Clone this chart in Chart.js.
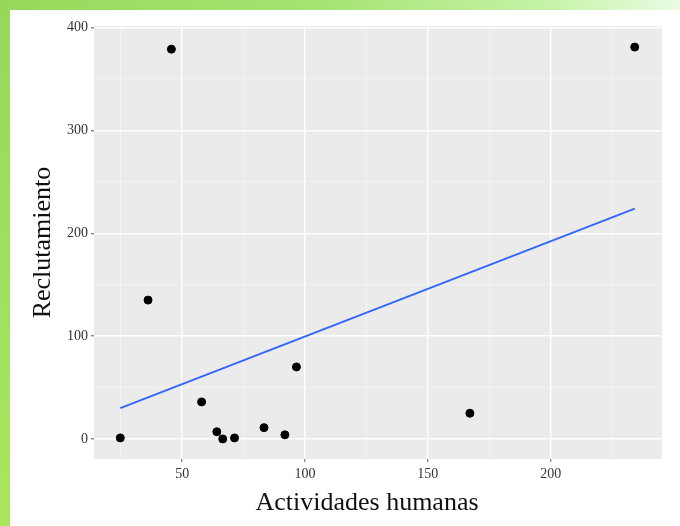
<!DOCTYPE html>
<html>
<head>
<meta charset="utf-8">
<script src="https://cdn.jsdelivr.net/npm/chart.js@4/dist/chart.umd.min.js"></script>
<style>
  html, body { margin: 0; padding: 0; background: #fff; }
  #wrap { position: relative; width: 680px; height: 526px; overflow: hidden; background: #fff; }
  #topBand { position: absolute; left: 0; top: 0; width: 680px; height: 10px;
    background: linear-gradient(to right, #97d95c 0%, #a3e36f 45%, #c4f3a6 80%, #eafbe2 100%); }
  #leftBand { position: absolute; left: 0; top: 0; width: 10px; height: 526px;
    background: linear-gradient(to bottom, #96d95a 0%, #9fdf5f 50%, #a9e65c 100%); }
  #chart { position: absolute; left: 0; top: 0; }
</style>
</head>
<body>
<div id="wrap">
  <div id="topBand"></div>
  <div id="leftBand"></div>
  <canvas id="chart" width="680" height="526"></canvas>
</div>
<script>
// Data
const actividades = [24.8, 36.1, 45.6, 57.9, 64.1, 66.5, 71.3, 83.3, 91.8, 96.5, 167.1, 234.2];
const reclutamiento = [1, 135, 379, 36, 7, 0, 1, 11, 4, 70, 25, 381];

// fitted line (end points)
const ajusteX = [24.8, 234.2];
const ajusteY = [30, 224];

// axis ticks
const xMajor = [50, 100, 150, 200];
const xMinor = [25, 75, 125, 175, 225];
const yMajor = [0, 100, 200, 300, 400];
const yMinor = [50, 150, 250, 350];

const xTitle = 'Actividades humanas';
const serif = "'Liberation Serif', 'Times New Roman', serif";

// grey panel behind the plot
const panelBg = {
    id: 'panelBg',
    beforeDraw(chart) {
        const { ctx, chartArea: a } = chart;
        ctx.save();
        ctx.fillStyle = '#ebebeb';
        ctx.fillRect(a.left, a.top, a.right - a.left, a.bottom - a.top);
        ctx.restore();
    }
};

// x axis title, sits a bit left of the panel centre in the original
const xTitlePlugin = {
    id: 'xTitle',
    afterDraw(chart) {
        const { ctx, chartArea: a } = chart;
        ctx.save();
        ctx.font = '26px ' + serif;
        ctx.fillStyle = '#111';
        ctx.textAlign = 'center';
        ctx.textBaseline = 'middle';
        ctx.fillText(xTitle, (a.left + a.right) / 2 - 11, 503);
        ctx.restore();
    }
};

const isMajor = (list, v) => list.includes(v);

new Chart(document.getElementById('chart').getContext('2d'), {
    type: 'scatter',
    data: {
        datasets: [
            {
                label: 'ajuste',
                type: 'line',
                data: ajusteX.map((x, i) => ({ x, y: ajusteY[i] })),
                borderColor: '#3366ff',
                borderWidth: 2,
                pointRadius: 0,
                fill: false,
                order: 2
            },
            {
                label: 'datos',
                data: actividades.map((x, i) => ({ x, y: reclutamiento[i] })),
                backgroundColor: '#000',
                borderColor: '#000',
                pointRadius: 4,
                order: 1
            }
        ]
    },
    options: {
        responsive: false,
        animation: false,
        layout: { padding: { left: 0, top: 26, right: 18, bottom: 0 } },
        plugins: { legend: { display: false }, tooltip: { enabled: false } },
        scales: {
            x: {
                type: 'linear',
                min: 14.1,
                max: 245.3,
                afterBuildTicks: s => { s.ticks = [...xMinor, ...xMajor].sort((a, b) => a - b).map(v => ({ value: v })); },
                afterFit: s => { s.height = 67; },
                border: { display: false },
                grid: {
                    color: c => isMajor(xMajor, c.tick.value) ? '#ffffff' : 'rgba(255,255,255,0.6)',
                    lineWidth: c => isMajor(xMajor, c.tick.value) ? 1.4 : 0.7,
                    tickColor: c => isMajor(xMajor, c.tick.value) ? '#888' : 'rgba(0,0,0,0)',
                    tickLength: 3
                },
                ticks: {
                    autoSkip: false,
                    maxRotation: 0,
                    padding: 4,
                    color: '#333',
                    font: { family: serif, size: 14 },
                    callback: v => isMajor(xMajor, v) ? String(v) : ''
                }
            },
            y: {
                type: 'linear',
                min: -19.5,
                max: 401.5,
                afterBuildTicks: s => { s.ticks = [...yMinor, ...yMajor].sort((a, b) => a - b).map(v => ({ value: v })); },
                afterFit: s => { s.width = 94; },
                border: { display: false },
                grid: {
                    color: c => isMajor(yMajor, c.tick.value) ? '#ffffff' : 'rgba(255,255,255,0.6)',
                    lineWidth: c => isMajor(yMajor, c.tick.value) ? 1.4 : 0.7,
                    tickColor: c => isMajor(yMajor, c.tick.value) ? '#888' : 'rgba(0,0,0,0)',
                    tickLength: 3
                },
                ticks: {
                    autoSkip: false,
                    padding: 3,
                    color: '#333',
                    font: { family: serif, size: 14 },
                    callback: v => isMajor(yMajor, v) ? String(v) : ''
                },
                title: {
                    display: true,
                    text: 'Reclutamiento',
                    color: '#111',
                    font: { family: serif, size: 26 },
                    padding: { top: 28, bottom: 0 }
                }
            }
        }
    },
    plugins: [panelBg, xTitlePlugin]
});
</script>
</body>
</html>
